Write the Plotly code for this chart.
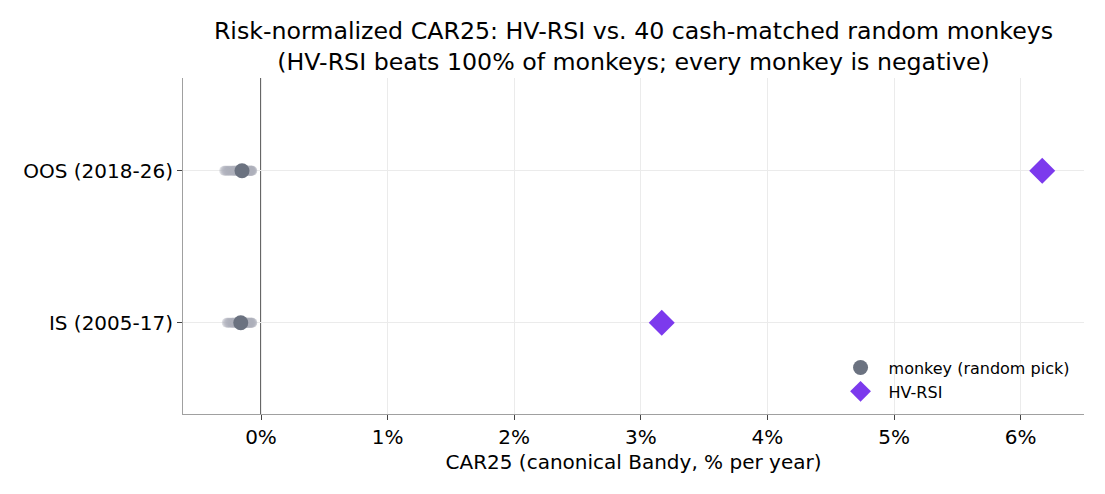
import plotly.graph_objects as go

categories = ["IS (2005-17)", "OOS (2018-26)"]

# 40 cash-matched random monkeys per period (CAR25, % per year)
monkeys_is = [-0.27, -0.26, -0.25, -0.24, -0.23, -0.22, -0.22, -0.21, -0.20, -0.20,
              -0.19, -0.19, -0.18, -0.18, -0.17, -0.17, -0.17, -0.16, -0.16, -0.16,
              -0.15, -0.15, -0.15, -0.14, -0.14, -0.14, -0.13, -0.13, -0.12, -0.12,
              -0.11, -0.11, -0.10, -0.10, -0.09, -0.09, -0.08, -0.08, -0.07, -0.07]
monkeys_oos = [-0.29, -0.28, -0.27, -0.26, -0.25, -0.24, -0.23, -0.22, -0.21, -0.21,
               -0.20, -0.19, -0.19, -0.18, -0.18, -0.17, -0.17, -0.16, -0.16, -0.15,
               -0.15, -0.15, -0.14, -0.14, -0.13, -0.13, -0.13, -0.12, -0.12, -0.11,
               -0.11, -0.10, -0.10, -0.09, -0.09, -0.08, -0.08, -0.08, -0.07, -0.07]

monkey_pick = [-0.16, -0.15]
hv_rsi = [3.165, 6.17]

x_ticks = [0, 1, 2, 3, 4, 5, 6]
x_tick_labels = ["0%", "1%", "2%", "3%", "4%", "5%", "6%"]

FONT = "DejaVu Sans"
GREY = "#6b7280"
PURPLE = "#7c3aed"

fig = go.Figure()

fig.add_trace(go.Scatter(
    x=monkeys_is + monkeys_oos,
    y=[categories[0]] * len(monkeys_is) + [categories[1]] * len(monkeys_oos),
    mode="markers",
    marker=dict(size=10, color="rgba(172,176,186,0.45)", line=dict(width=0)),
    showlegend=False, hoverinfo="x",
))

fig.add_trace(go.Scatter(
    x=monkey_pick, y=categories, mode="markers",
    name="monkey (random pick)",
    marker=dict(size=15, color=GREY, line=dict(width=0)),
))

fig.add_trace(go.Scatter(
    x=hv_rsi, y=categories, mode="markers",
    name="HV-RSI",
    marker=dict(symbol="diamond", size=20, color=PURPLE, line=dict(width=0)),
))

fig.add_shape(type="line", xref="x", yref="paper", x0=0, x1=0, y0=0, y1=1,
              line=dict(color="#333333", width=1.5), layer="below")

fig.update_layout(
    width=1105, height=494,
    margin=dict(l=183, r=21, t=78, b=80),
    paper_bgcolor="white", plot_bgcolor="white",
    font=dict(family=FONT, size=20, color="black"),
    title=dict(
        text="Risk-normalized CAR25: HV-RSI vs. 40 cash-matched random monkeys<br>"
             "(HV-RSI beats 100% of monkeys; every monkey is negative)",
        x=0.5, xref="paper", xanchor="center",
        y=1 - 39 / 494, yref="container", yanchor="middle",
        font=dict(family=FONT, size=23.7, color="black"),
    ),
    xaxis=dict(
        range=[-0.616, 6.50],
        tickvals=x_ticks, ticktext=x_tick_labels,
        showgrid=True, gridcolor="#ebebeb", gridwidth=1,
        zeroline=False,
        showline=True, linecolor="#a0a0a0", linewidth=1,
        ticks="outside", ticklen=5, tickcolor="#444",
        title=dict(text="CAR25 (canonical Bandy, % per year)", font=dict(size=20), standoff=6),
        tickfont=dict(size=20),
    ),
    yaxis=dict(
        type="category", categoryorder="array", categoryarray=categories,
        range=[-0.6, 1.61],
        showgrid=True, gridcolor="#ebebeb", gridwidth=1,
        zeroline=False,
        showline=True, linecolor="#a0a0a0", linewidth=1,
        ticks="outside", ticklen=5, tickcolor="#444",
        tickfont=dict(size=20),
    ),
    legend=dict(
        x=0.9895, xanchor="right", y=0.016, yanchor="bottom",
        bgcolor="rgba(0,0,0,0)", borderwidth=0,
        font=dict(family=FONT, size=16),
        tracegroupgap=0, itemsizing="trace", itemwidth=46,
    ),
)

fig.write_html("out.html")
